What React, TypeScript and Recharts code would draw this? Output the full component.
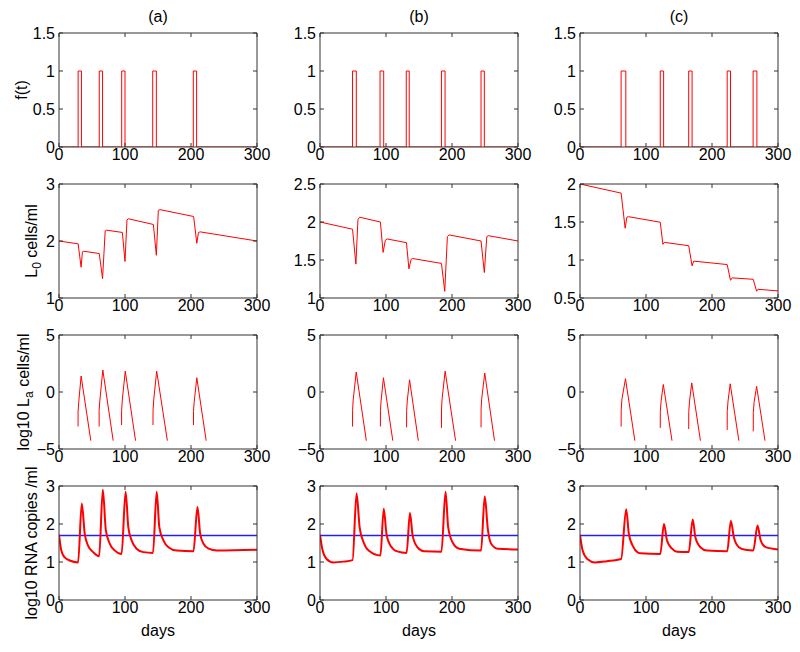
import React from 'react';
import { LineChart, Line, XAxis, YAxis } from 'recharts';

type Pt = [number, number];

const X_TICKS = [0, 100, 200, 300];
const TITLES = ['(a)', '(b)', '(c)'];

const PULSES_A: Pt[] = [[29, 34], [61, 66], [95, 100], [142, 147.5], [203.5, 208.5]];
const PULSES_B: Pt[] = [[49.3, 55], [91, 96.5], [130.7, 135.2], [184, 189.5], [244, 249]];
const PULSES_C: Pt[] = [[62.3, 69.4], [121.6, 126.7], [164.7, 169.8], [223, 228], [262.3, 268]];

// latent reservoir L0 (cells/ml)
const L0_A: Pt[] = [
  [0, 2.0], [29, 1.95], [33.5, 1.54], [35.5, 1.81], [37.5, 1.82], [61, 1.78], [66, 1.34],
  [70, 2.18], [72, 2.19], [96, 2.15], [100, 1.64], [103, 2.37], [105, 2.39], [143, 2.29],
  [147.5, 1.75], [150.5, 2.54], [153, 2.55], [204, 2.43], [208.8, 1.96], [211.3, 2.15],
  [214, 2.16], [300, 2.0],
];
const L0_B: Pt[] = [
  [0, 2.0], [49.3, 1.905], [54.4, 1.446], [57.5, 2.03], [60, 2.063], [91.5, 2.0], [95.6, 1.6],
  [99, 1.76], [101.7, 1.777], [131, 1.728], [134.7, 1.384], [138, 1.507], [140, 1.52],
  [184, 1.455], [189, 1.088], [193, 1.807], [195.7, 1.83], [244, 1.75], [249, 1.335],
  [252.7, 1.807], [255, 1.82], [300, 1.75],
];
const L0_C: Pt[] = [
  [0, 2.0], [62.3, 1.88], [68.4, 1.418], [71, 1.563], [73.5, 1.57], [121.6, 1.497],
  [125.6, 1.206], [127.7, 1.232], [164.7, 1.188], [169.8, 0.924], [172.3, 0.985], [223, 0.94],
  [228, 0.733], [230.6, 0.765], [262.5, 0.746], [267.6, 0.588], [269.6, 0.615], [300, 0.593],
];

// log10 La, one piece per pulse
const LA_A: Pt[][] = [
  [[28.9, -3.03], [28.9, -1.77], [29.9, -0.89], [33.5, 1.4], [48.2, -4.27]],
  [[60.8, -3.03], [60.8, -1.6], [61.8, -0.8], [66.4, 1.93], [82.1, -4.27]],
  [[94.8, -2.9], [94.9, -1.6], [95.9, -0.7], [100.4, 1.83], [116, -4.27]],
  [[142.4, -2.9], [142.5, -1.6], [143.5, -0.7], [148, 1.83], [164.2, -4.27]],
  [[203.7, -2.9], [203.8, -1.7], [204.8, -0.9], [208.8, 1.25], [223, -4.27]],
];
const LA_B: Pt[][] = [
  [[49.3, -3.03], [49.4, -1.6], [50.3, -0.7], [54.9, 1.75], [70.2, -4.27]],
  [[91.5, -3.03], [91.6, -1.6], [92.5, -0.8], [96.1, 1.25], [110.3, -4.27]],
  [[131.2, -3.1], [131.3, -1.6], [132.2, -0.8], [135.7, 1.07], [149, -4.27]],
  [[184, -3.15], [184.1, -1.5], [185, -0.6], [189.6, 1.83], [205.4, -4.27]],
  [[244, -3.1], [244.1, -1.5], [245, -0.6], [249.6, 1.66], [264.4, -4.27]],
];
const LA_C: Pt[][] = [
  [[62.3, -3.03], [62.4, -1.6], [63.6, -0.6], [68.9, 1.17], [83.1, -4.27]],
  [[121.6, -3.15], [121.7, -1.7], [122.9, -0.8], [126.2, 0.66], [139.4, -4.27]],
  [[164.7, -3.25], [164.8, -1.7], [166, -0.8], [169.3, 0.8], [182.5, -4.27]],
  [[223, -3.33], [223.1, -1.7], [224.3, -0.8], [227.6, 0.72], [240.7, -4.27]],
  [[262.5, -3.45], [262.6, -1.8], [263.8, -0.9], [267.6, 0.5], [280.3, -4.27]],
];

// log10 RNA copies/ml
const RNA_A: Pt[] = [
  [0, 1.72], [3.5, 1.3], [8.6, 1.12], [16.2, 1.04], [28.9, 0.99], [34.5, 2.54], [39, 1.74],
  [44, 1.43], [51.7, 1.26], [60.8, 1.15], [66.4, 2.9], [71, 1.83], [77, 1.48], [84.7, 1.3],
  [94.8, 1.21], [100.9, 2.85], [105, 1.92], [110, 1.57], [117.6, 1.35], [127.8, 1.26],
  [142.4, 1.24], [148, 2.85], [152, 1.92], [158.2, 1.57], [165.8, 1.39], [178.4, 1.3],
  [203.7, 1.28], [209.8, 2.45], [213.9, 1.74], [219, 1.48], [226.6, 1.35], [239.3, 1.3],
  [300, 1.32],
];
const RNA_B: Pt[] = [
  [0, 1.72], [4, 1.3], [10, 1.08], [20.3, 0.99], [35.6, 1.01], [49.3, 1.05], [55.4, 2.8],
  [60, 1.92], [66, 1.52], [73.7, 1.3], [91.5, 1.17], [96.6, 2.4], [100.7, 1.74], [106.8, 1.43],
  [117, 1.28], [131.2, 1.24], [136.3, 2.29], [140.3, 1.7], [147.5, 1.39], [157.6, 1.28],
  [184, 1.27], [190.2, 2.85], [194.2, 1.92], [200.8, 1.52], [211, 1.35], [244, 1.3],
  [249.6, 2.73], [254.2, 1.88], [259.3, 1.48], [269.5, 1.35], [300, 1.33],
];
const RNA_C: Pt[] = [
  [0, 1.72], [4, 1.3], [11, 1.08], [22.8, 0.99], [40.5, 1.02], [62.3, 1.08], [70, 2.39],
  [74, 1.74], [81, 1.39], [91.2, 1.23], [121.6, 1.21], [127.2, 2.0], [131.8, 1.57],
  [139.4, 1.35], [147, 1.27], [164.7, 1.26], [170.8, 2.12], [174.8, 1.65], [182.4, 1.39],
  [192.6, 1.3], [223, 1.28], [228.6, 2.08], [233.1, 1.65], [240.7, 1.39], [250.9, 1.32],
  [262.5, 1.3], [269, 1.96], [273.7, 1.57], [281.3, 1.39], [300, 1.33],
];

// detection limit, log10(50)
const THRESHOLD: Pt[] = [[0, 1.7], [300, 1.7]];

const L0_DOMAINS: Pt[] = [[1, 3], [1, 2.5], [0.5, 2]];
const L0_TICKS = [[1, 2, 3], [1, 1.5, 2, 2.5], [0.5, 1, 1.5, 2]];

// layout
const COL_X = [59, 320, 580];
const ROW_Y = [33, 184, 335, 486];
const PLOT_W = 198;
const PLOT_H = 114;
const AXIS_W = 44;
const TICK = 4;
const FONT = '"Liberation Sans", Arial, Helvetica, sans-serif';
const FS = 16;
const AXIS_COLOR = '#333';
const RED = '#ff0000';
const BLUE = '#2020ff';

const toRows = (pts: Pt[]) => pts.map(([t, v]) => ({ t, v }));

// build the on/off step curve from the pulse windows
const stepRows = (pulses: Pt[]) => {
  const pts: Pt[] = [[0, 0]];
  pulses.forEach(([s, e]) => {
    pts.push([s, 0], [s, 1], [e, 1], [e, 0]);
  });
  pts.push([300, 0]);
  return toRows(pts);
};

const fmt = (v: number) => (v < 0 ? '\u2212' + Math.abs(v) : String(v));

const bottomTick = (p: any) => (
  <g>
    <line x1={p.x} y1={p.y} x2={p.x} y2={p.y - TICK} stroke={AXIS_COLOR} />
    <text x={p.x} y={p.y + 13} textAnchor="middle" fontSize={FS} fontFamily={FONT} fill="#000">
      {fmt(p.payload.value)}
    </text>
  </g>
);
const topTick = (p: any) => (
  <line x1={p.x} y1={p.y} x2={p.x} y2={p.y + TICK} stroke={AXIS_COLOR} />
);
const leftTick = (p: any) => (
  <g>
    <line x1={p.x} y1={p.y} x2={p.x + TICK} y2={p.y} stroke={AXIS_COLOR} />
    <text x={p.x - 4} y={p.y} dy="0.36em" textAnchor="end" fontSize={FS} fontFamily={FONT} fill="#000">
      {fmt(p.payload.value)}
    </text>
  </g>
);
const rightTick = (p: any) => (
  <line x1={p.x} y1={p.y} x2={p.x - TICK} y2={p.y} stroke={AXIS_COLOR} />
);

function Panel({ col, row, domain, ticks, children }: any) {
  const common = {
    type: 'number' as const,
    allowDataOverflow: true,
    interval: 0 as const,
    tickSize: 0,
    tickMargin: 0,
    tickLine: false,
    axisLine: { stroke: AXIS_COLOR },
  };
  return (
    <div style={{ position: 'absolute', left: COL_X[col] - AXIS_W, top: ROW_Y[row] - 1 }}>
      <LineChart
        width={AXIS_W + PLOT_W + 1}
        height={1 + PLOT_H + 24}
        margin={{ top: 0, right: 0, bottom: 0, left: 0 }}
      >
        <XAxis {...common} dataKey="t" domain={[0, 300]} ticks={X_TICKS} height={24} tick={bottomTick} />
        <XAxis {...common} xAxisId="top" orientation="top" dataKey="t" domain={[0, 300]} ticks={X_TICKS} height={1} tick={topTick} />
        <YAxis {...common} domain={domain} ticks={ticks} width={AXIS_W} tick={leftTick} />
        <YAxis {...common} yAxisId="right" orientation="right" domain={domain} ticks={ticks} width={1} tick={rightTick} />
        {children}
      </LineChart>
    </div>
  );
}

const series = (key: string, pts: any[], color = RED, width = 1, type: any = 'linear') => (
  <Line
    key={key}
    data={pts}
    dataKey="v"
    type={type}
    stroke={color}
    strokeWidth={width}
    dot={false}
    activeDot={false}
    isAnimationActive={false}
  />
);

export default function App() {
  const pulses = [PULSES_A, PULSES_B, PULSES_C];
  const l0 = [L0_A, L0_B, L0_C];
  const la = [LA_A, LA_B, LA_C];
  const rna = [RNA_A, RNA_B, RNA_C];
  const yLabelRows = [
    { y: ROW_Y[0] + PLOT_H / 2, x: 27 },
    { y: ROW_Y[1] + PLOT_H / 2, x: 37 },
    { y: ROW_Y[2] + PLOT_H / 2, x: 29 },
    { y: ROW_Y[3] + PLOT_H / 2, x: 37 },
  ];
  return (
    <div style={{ position: 'absolute', left: 0, top: 0, width: 800, height: 652, background: '#fff' }}>
      <style>{`.recharts-surface{overflow:visible}`}</style>
      {[0, 1, 2].map((c) => (
        <React.Fragment key={c}>
          <Panel col={c} row={0} domain={[0, 1.5]} ticks={[0, 0.5, 1, 1.5]}>
            {series('f' + c, stepRows(pulses[c]))}
          </Panel>
          <Panel col={c} row={1} domain={L0_DOMAINS[c]} ticks={L0_TICKS[c]}>
            {series('l' + c, toRows(l0[c]))}
          </Panel>
          <Panel col={c} row={2} domain={[-5, 5]} ticks={[-5, 0, 5]}>
            {la[c].map((seg, i) => series('a' + c + i, toRows(seg)))}
          </Panel>
          <Panel col={c} row={3} domain={[0, 3]} ticks={[0, 1, 2, 3]}>
            {series('th' + c, toRows(THRESHOLD), BLUE, 1.5)}
            {series('r' + c, toRows(rna[c]), RED, 2, 'monotone')}
          </Panel>
        </React.Fragment>
      ))}
      <svg width={800} height={652} style={{ position: 'absolute', left: 0, top: 0, pointerEvents: 'none' }}
        fontFamily={FONT} fontSize={FS} fill="#000">
        {TITLES.map((t, c) => (
          <text key={t} x={COL_X[c] + PLOT_W / 2} y={22} textAnchor="middle">{t}</text>
        ))}
        {TITLES.map((t, c) => (
          <text key={'d' + t} x={COL_X[c] + PLOT_W / 2} y={636} textAnchor="middle">days</text>
        ))}
        <text transform={`translate(${yLabelRows[0].x},${yLabelRows[0].y}) rotate(-90)`} textAnchor="middle">f(t)</text>
        <text transform={`translate(${yLabelRows[1].x},${yLabelRows[1].y}) rotate(-90)`} textAnchor="middle">
          L<tspan dy={4} fontSize={12}>0</tspan><tspan dy={-4}> cells/ml</tspan>
        </text>
        <text transform={`translate(${yLabelRows[2].x},${yLabelRows[2].y}) rotate(-90)`} textAnchor="middle">
          log10 L<tspan dy={4} fontSize={12}>a</tspan><tspan dy={-4}> cells/ml</tspan>
        </text>
        <text transform={`translate(${yLabelRows[3].x},${yLabelRows[3].y}) rotate(-90)`} textAnchor="middle">
          log10 RNA copies /ml
        </text>
      </svg>
    </div>
  );
}
